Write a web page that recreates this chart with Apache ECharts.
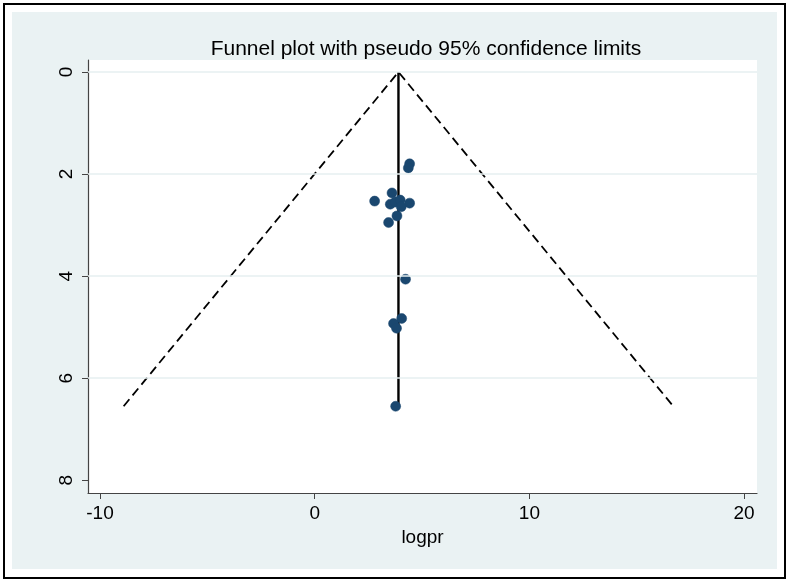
<!DOCTYPE html>
<html>
<head>
<meta charset="utf-8">
<script src="https://cdn.jsdelivr.net/npm/echarts@6/dist/echarts.min.js"></script>
<style>html,body{margin:0;padding:0;background:#fff;}#c{width:789px;height:582px;}</style>
</head>
<body>
<div id="c"></div>
<script>
// Study points: logpr (x) and standard error (y)
var pointX = [4.42, 4.36, 3.60, 2.79, 3.52, 3.75, 3.98, 4.42, 4.03, 3.83, 3.44, 4.23, 4.05, 3.67, 3.81, 3.77];
var pointY = [1.80, 1.88, 2.37, 2.53, 2.59, 2.55, 2.51, 2.57, 2.64, 2.82, 2.95, 4.06, 4.83, 4.93, 5.02, 6.55];
// Funnel (pseudo 95% limits)
var funnelX = [-8.9, 3.9, 16.7];
var funnelY = [6.55, 0, 6.55];
// Pooled estimate line
var pooledX = [3.9, 3.9];
var pooledY = [0, 6.55];
// Tick labels
var xTicks = [-10, 0, 10, 20];
var yTicks = [0, 2, 4, 6, 8];
var yGrid = [0, 2, 4, 6];

var pts = pointX.map(function(x, i){ return [x, pointY[i]]; });
var funnel = funnelX.map(function(x, i){ return [x, funnelY[i]]; });
var pooled = pooledX.map(function(x, i){ return [x, pooledY[i]]; });

var chart = echarts.init(document.getElementById('c'), null, {renderer: 'canvas'});
var font = 'Liberation Sans, Arial, sans-serif';
chart.setOption({
  backgroundColor: '#ffffff',
  animation: false,
  graphic: [
    {type: 'rect', z: -10, shape: {x: 4, y: 4, width: 781, height: 574}, style: {fill: '#ffffff', stroke: '#000000', lineWidth: 2}},
    {type: 'rect', z: -9, shape: {x: 12, y: 12, width: 765, height: 557}, style: {fill: '#eaf2f3'}}
  ],
  title: {
    text: 'Funnel plot with pseudo 95% confidence limits',
    left: 421, top: 34, textAlign: 'center',
    textStyle: {fontFamily: font, fontSize: 21, fontWeight: 'normal', color: '#000'}
  },
  grid: {left: 88, right: 32, top: 60, bottom: 89, show: true, backgroundColor: '#ffffff', borderWidth: 0},
  xAxis: {
    type: 'value', min: -10.56, max: 20.6,
    name: 'logpr', nameLocation: 'middle', nameGap: 33,
    nameTextStyle: {fontFamily: font, fontSize: 19, color: '#000'},
    axisLine: {show: true, onZero: false, lineStyle: {color: '#444', width: 1.2}},
    axisTick: {show: true, length: 6, customValues: xTicks, lineStyle: {color: '#444'}},
    axisLabel: {customValues: xTicks, fontFamily: font, fontSize: 19, color: '#000', margin: 11},
    splitLine: {show: false}
  },
  yAxis: {
    type: 'value', inverse: true, min: -0.235, max: 8.25,
    axisLine: {show: true, onZero: false, lineStyle: {color: '#444', width: 1.2}},
    axisTick: {show: true, length: 6, customValues: yTicks, lineStyle: {color: '#444'}},
    axisLabel: {customValues: yTicks, rotate: 90, fontFamily: font, fontSize: 19, color: '#000', margin: 12},
    splitLine: {show: false}
  },
  series: [
    {
      type: 'line', data: [], silent: true,
      markLine: {
        silent: true, symbol: 'none', label: {show: false},
        lineStyle: {color: '#e6eff1', type: 'solid', width: 1.5},
        data: yGrid.map(function(v){ return {yAxis: v}; })
      }
    },
    {
      type: 'line', data: funnel, symbol: 'none', z: 3,
      lineStyle: {color: '#000', width: 1.8, type: [9, 5]}
    },
    {
      type: 'line', data: pooled, symbol: 'none', z: 3,
      lineStyle: {color: '#000', width: 2.4, type: 'solid'}
    },
    {
      type: 'scatter', data: pts, symbol: 'circle', symbolSize: 10, z: 4,
      itemStyle: {color: '#1a476f', borderColor: '#1a476f', borderWidth: 0.5, opacity: 1}
    }
  ]
});
</script>
</body>
</html>
